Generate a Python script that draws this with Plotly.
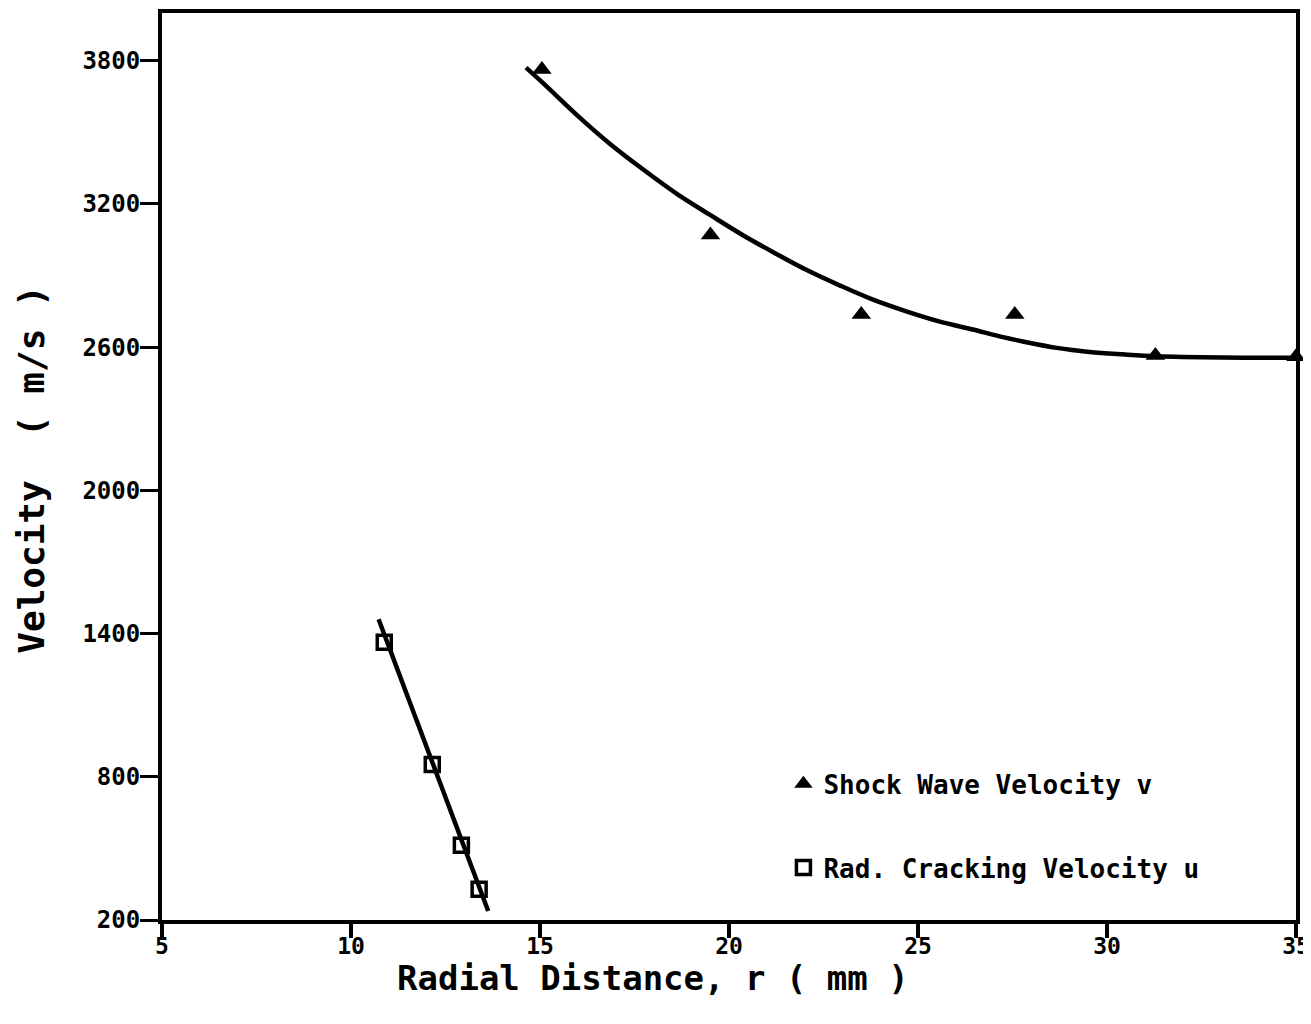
import plotly.graph_objects as go

# Measured data points
shock_r = [15.05, 19.51, 23.50, 27.56, 31.28, 35.0]
shock_v = [3763, 3070, 2737, 2737, 2565, 2560]

crack_r = [10.88, 12.15, 12.92, 13.39]
crack_u = [1364, 851, 513, 329]

# Fitted curves
shock_fit_r = [14.63, 15.11, 16.00, 16.87, 17.74, 18.64, 19.51, 20.38, 21.17, 22.07,
               22.94, 23.81, 24.71, 25.58, 26.45, 27.16, 27.77, 28.67, 29.54, 30.41,
               31.31, 33.05, 35.0]
shock_fit_v = [3771, 3702, 3569, 3449, 3343, 3240, 3153, 3068, 2998, 2922,
               2858, 2799, 2749, 2707, 2674, 2645, 2624, 2597, 2580, 2570,
               2562, 2557, 2556]

crack_fit_r = [10.73, 13.63]
crack_fit_u = [1460, 238]

x_ticks = [5, 10, 15, 20, 25, 30, 35]
y_ticks = [200, 800, 1400, 2000, 2600, 3200, 3800]

FONT = "DejaVu Sans Mono"

fig = go.Figure()

fig.add_trace(go.Scatter(x=shock_fit_r, y=shock_fit_v, mode="lines",
                         line=dict(color="black", width=4.5, shape="spline"),
                         showlegend=False, hoverinfo="skip"))
fig.add_trace(go.Scatter(x=crack_fit_r, y=crack_fit_u, mode="lines",
                         line=dict(color="black", width=4.5),
                         showlegend=False, hoverinfo="skip"))

fig.add_trace(go.Scatter(x=shock_r, y=shock_v, mode="markers",
                         name="Shock Wave Velocity v",
                         marker=dict(symbol="triangle-up", size=17, color="black"),
                         cliponaxis=False, legendgroup="a"))
fig.add_trace(go.Scatter(x=crack_r, y=crack_u, mode="markers",
                         name="Rad. Cracking Velocity u",
                         marker=dict(symbol="square-open", size=14, color="black",
                                     line=dict(width=3.5, color="black")),
                         legendgroup="b"))

fig.update_layout(
    width=1311, height=1024,
    margin=dict(l=154, r=23, t=1, b=112),
    paper_bgcolor="white", plot_bgcolor="white",
    font=dict(family=FONT, color="black"),
    legend=dict(x=0.548, y=0.176, xanchor="left", yanchor="top",
                font=dict(family=FONT, size=26, color="black", weight="bold"),
                bgcolor="rgba(0,0,0,0)", tracegroupgap=47),
    xaxis=dict(range=[5, 35], tickvals=x_ticks, ticktext=[str(t) for t in x_ticks],
               showgrid=False, zeroline=False, showline=True, linecolor="black",
               linewidth=4, mirror=True, ticks="outside", ticklen=14, tickwidth=4,
               tickcolor="black", ticklabelstandoff=-12,
               tickfont=dict(family=FONT, size=23, color="black", weight="bold")),
    yaxis=dict(range=[200, 4000], tickvals=y_ticks, ticktext=[str(t) for t in y_ticks],
               showgrid=False, zeroline=False, showline=True, linecolor="black",
               linewidth=4, mirror=True, ticks="outside", ticklen=18, tickwidth=3,
               tickcolor="black", ticklabelstandoff=-5,
               tickfont=dict(family=FONT, size=24, color="black", weight="bold")),
    annotations=[
        dict(text="Radial Distance, r ( mm )", xref="paper", yref="paper",
             x=0.4327, y=-0.064, xanchor="center", yanchor="middle", showarrow=False,
             font=dict(family=FONT, size=34, color="black", weight="bold")),
        dict(text="Velocity  ( m/s )", xref="paper", yref="paper",
             x=-0.115, y=0.496, xanchor="center", yanchor="middle", showarrow=False,
             textangle=-90,
             font=dict(family=FONT, size=36, color="black", weight="bold")),
    ],
)

fig.write_html("out.html")
